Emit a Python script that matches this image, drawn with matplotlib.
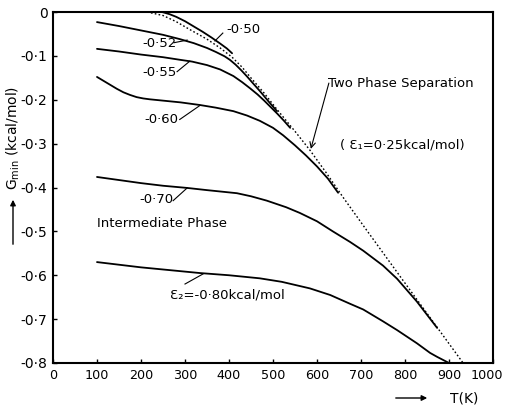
import matplotlib
matplotlib.use("Agg")
import matplotlib.pyplot as plt
import matplotlib.transforms as mtransforms

plt.rcParams['font.family'] = ['DejaVu Sans']

# Two-phase separation boundary (dotted)
T_sep = [214, 250, 280, 311, 350, 380, 407, 430, 448, 480, 509, 550, 584, 620, 659, 709, 800, 932]
G_sep = [0, -0.008, -0.022, -0.040, -0.062, -0.082, -0.103, -0.126, -0.148, -0.185, -0.222,
         -0.272, -0.315, -0.365, -0.422, -0.492, -0.618, -0.800]

T_050 = [248, 265, 280, 300, 320, 340, 360, 380, 395, 407]
G_050 = [0, -0.005, -0.011, -0.021, -0.033, -0.045, -0.058, -0.072, -0.083, -0.094]

T_052 = [100, 150, 200, 250, 289, 320, 350, 370, 390, 402, 415, 428, 441, 455, 470, 490, 509]
G_052 = [-0.023, -0.032, -0.042, -0.052, -0.062, -0.071, -0.082, -0.091, -0.101, -0.109,
         -0.120, -0.133, -0.147, -0.163, -0.180, -0.204, -0.226]

T_055 = [100, 150, 200, 250, 289, 316, 350, 380, 410, 430, 448, 465, 480, 495, 510, 525, 539]
G_055 = [-0.084, -0.090, -0.097, -0.103, -0.109, -0.113, -0.121, -0.131, -0.146, -0.160,
         -0.174, -0.188, -0.202, -0.217, -0.232, -0.248, -0.264]

T_060 = [100, 115, 130, 145, 160, 175, 190, 205, 220, 250, 290, 334, 370, 410, 441, 470,
         500, 523, 550, 575, 600, 625, 648]
G_060 = [-0.148, -0.157, -0.166, -0.175, -0.183, -0.189, -0.194, -0.197, -0.199, -0.202,
         -0.206, -0.212, -0.218, -0.226, -0.236, -0.248, -0.264, -0.281, -0.304, -0.327,
         -0.352, -0.380, -0.412]

T_070 = [100, 150, 200, 250, 305, 350, 418, 450, 486, 530, 561, 600, 636, 675, 705, 750,
         782, 827, 873]
G_070 = [-0.376, -0.383, -0.390, -0.396, -0.401, -0.406, -0.413, -0.420, -0.430, -0.445,
         -0.458, -0.477, -0.500, -0.524, -0.544, -0.578, -0.608, -0.660, -0.720]

T_080 = [100, 200, 334, 400, 470, 520, 584, 630, 675, 705, 750, 782, 827, 857, 873, 900]
G_080 = [-0.570, -0.582, -0.595, -0.600, -0.607, -0.615, -0.630, -0.645, -0.665, -0.678,
         -0.705, -0.725, -0.755, -0.777, -0.786, -0.800]

x_ticks = [0, 100, 200, 300, 400, 500, 600, 700, 800, 900, 1000]
y_ticks = [0, -0.1, -0.2, -0.3, -0.4, -0.5, -0.6, -0.7, -0.8]
y_tick_labels = ["0", "-0·1", "-0·2", "-0·3", "-0·4", "-0·5", "-0·6", "-0·7", "-0·8"]

fig = plt.figure(figsize=(5.06, 4.07), dpi=100)
ax = fig.add_axes([53/506, 1-363/407, 440/506, 351/407])

lw = 1.3
ax.plot(T_sep, G_sep, color='black', lw=1.0, linestyle=(0, (1.2, 1.6)))
for T, G in [(T_050, G_050), (T_052, G_052), (T_055, G_055), (T_060, G_060),
             (T_070, G_070), (T_080, G_080)]:
    ax.plot(T, G, color='black', lw=lw, solid_capstyle='round', solid_joinstyle='round')

ax.set_xlim(0, 1000)
ax.set_ylim(-0.8, 0)
ax.set_xticks(x_ticks)
ax.set_xticklabels([str(v) for v in x_ticks])
ax.set_yticks(y_ticks)
ax.set_yticklabels(y_tick_labels)
ax.tick_params(direction='in', length=3, width=1, labelsize=10, pad=4)
ax.tick_params(axis='x', labelsize=9.2)
for s in ax.spines.values():
    s.set_linewidth(1.5)

# nudge the last x tick label so it stays inside the figure
last = ax.get_xticklabels()[-1]
last.set_transform(last.get_transform() +
                   mtransforms.ScaledTranslation(-6/100, 0, fig.dpi_scale_trans))

fs = 9.5
# curve labels with leaders
labels = [
    ("-0·50", (432, -0.041), (386, -0.048), (368, -0.066)),
    ("-0·52", (241, -0.071), (275, -0.070), (305, -0.064)),
    ("-0·55", (243, -0.139), (282, -0.136), (311, -0.112)),
    ("-0·60", (247, -0.244), (288, -0.245), (334, -0.213)),
    ("-0·70", (236, -0.428), (273, -0.430), (305, -0.401)),
]
for txt, (tx, ty), (x0, y0), (x1, y1) in labels:
    ax.text(tx, ty, txt, fontsize=fs, ha='center', va='center')
    ax.plot([x0, x1], [y0, y1], color='black', lw=0.8)

ax.text(100, -0.483, "Intermediate Phase", fontsize=fs, ha='left', va='center')
ax.text(266, -0.645, "Ɛ₂=-0·80kcal/mol", fontsize=fs, ha='left', va='center')
ax.plot([300, 341], [-0.62, -0.597], color='black', lw=0.8)

ax.text(625, -0.162, "Two Phase Separation", fontsize=fs, ha='left', va='center')
ax.text(652, -0.303, "( Ɛ₁=0·25kcal/mol)", fontsize=fs, ha='left', va='center')
ax.annotate("", xy=(586, -0.312), xytext=(627, -0.162),
            arrowprops=dict(arrowstyle='->', color='black', lw=0.8, shrinkA=0, shrinkB=0))

# y label with arrow
fig.text(13/506, 1-138/407, "G$_{\\rm min}$ (kcal/mol)", rotation=90, fontsize=10,
         ha='center', va='center')
fig.patches.append(matplotlib.patches.FancyArrowPatch(
    (13/506, 1-247/407), (13/506, 1-197/407), transform=fig.transFigure,
    arrowstyle='-|>', mutation_scale=8, color='black', lw=1.0))

# x label with arrow
fig.text(464/506, 1-398/407, "T(K)", fontsize=10, ha='center', va='center')
fig.patches.append(matplotlib.patches.FancyArrowPatch(
    (393/506, 1-398/407), (430/506, 1-398/407), transform=fig.transFigure,
    arrowstyle='-|>', mutation_scale=8, color='black', lw=1.0))

fig.savefig("out.png", dpi=100)
